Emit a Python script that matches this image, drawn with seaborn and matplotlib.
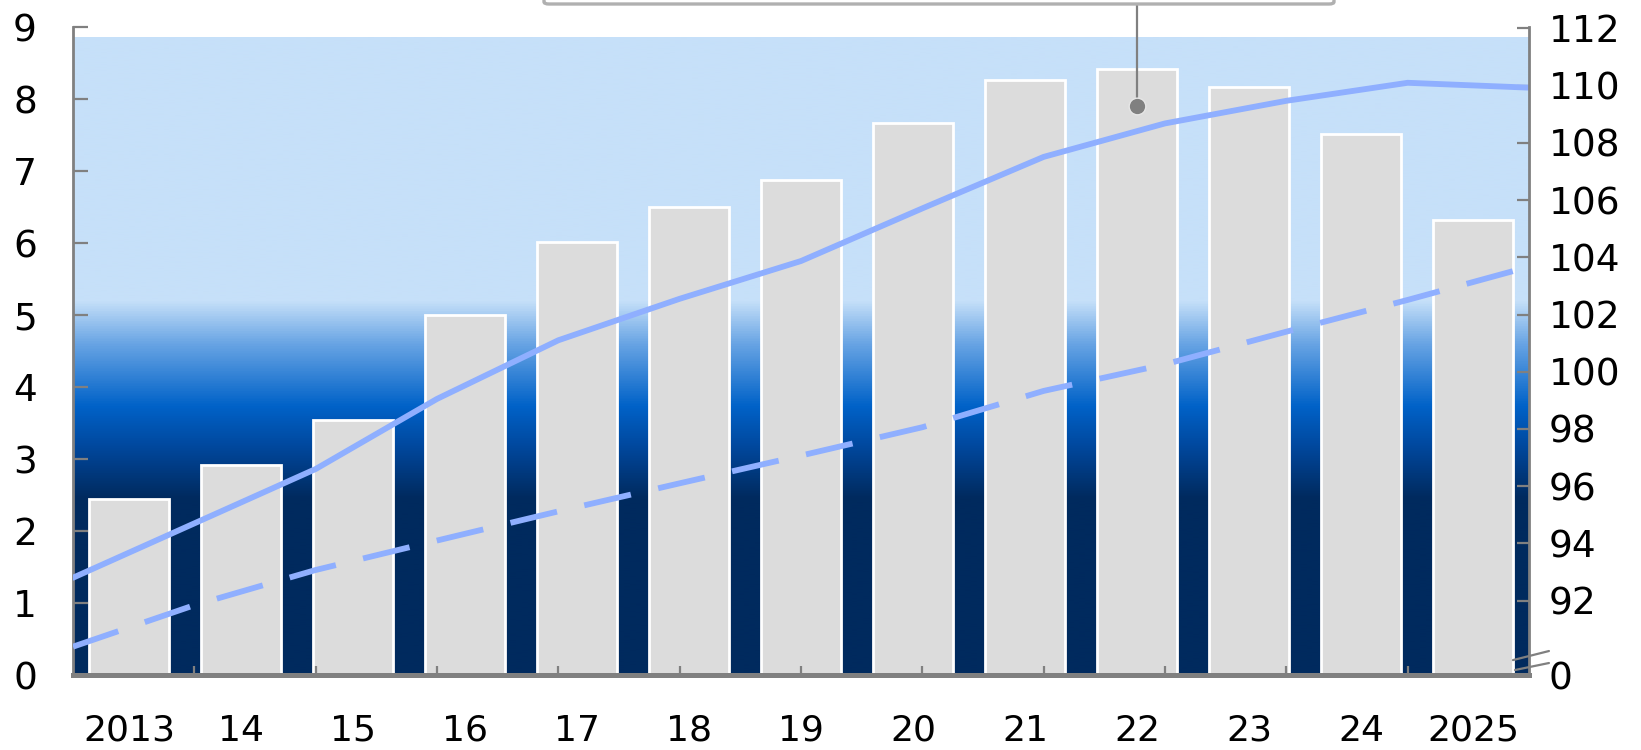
import numpy as np
import pandas as pd
import matplotlib
matplotlib.use("Agg")
import matplotlib.pyplot as plt
import seaborn as sns
from matplotlib.colors import LinearSegmentedColormap
from matplotlib.patches import FancyBboxPatch
from matplotlib.lines import Line2D

# ---------------- data ----------------
categories = ["2013", "14", "15", "16", "17", "18", "19", "20", "21", "22", "23", "24", "2025"]
bar_values = [2.45, 2.92, 3.54, 5.00, 6.02, 6.50, 6.88, 7.66, 8.27, 8.41, 8.17, 7.51, 6.32]
line_years = [2013, 2014, 2015, 2016, 2017, 2018, 2019, 2020, 2021, 2022, 2023, 2024, 2025]
solid_values = [92.80, 94.70, 96.60, 99.05, 101.10, 102.55, 103.87, 105.71, 107.51, 108.68, 109.47, 110.10, 109.93]
dashed_values = [90.39, 91.84, 93.07, 94.10, 95.12, 96.10, 97.07, 98.06, 99.33, 100.26, 101.40, 102.51, 103.67]
left_ticks = [0, 1, 2, 3, 4, 5, 6, 7, 8, 9]
right_ticks = [92, 94, 96, 98, 100, 102, 104, 106, 108, 110, 112]
right_zero = 89.40   # value of right axis at its broken "0" position

# ---------------- style ----------------
sns.set_theme(style="white")
plt.rcParams["font.family"] = ["DejaVu Sans"]
GRAY = "#808080"
LINE = "#8fafff"
FS = 27

fig = plt.figure(figsize=(16.41, 7.5), dpi=100)
ax = fig.add_axes([73 / 1641, 75 / 750, 1456 / 1641, 648 / 750])
ax.set_facecolor("white")

# gradient background
shade_top = 8.86
stops = [(0.0, "#002a5e"), (2.45 / shade_top, "#002a5e"), (3.15 / shade_top, "#00479c"),
         (3.73 / shade_top, "#0062c8"), (4.6 / shade_top, "#68a4e4"),
         (5.2 / shade_top, "#c6e0f9"), (1.0, "#c6e0f9")]
cmap = LinearSegmentedColormap.from_list("bg", stops)
grad = np.linspace(0, 1, 512).reshape(-1, 1)
ax.imshow(grad, cmap=cmap, extent=(-0.5, 12.5, 0, shade_top), aspect="auto",
          origin="lower", zorder=0, interpolation="bilinear")

# bars
df = pd.DataFrame({"cat": categories, "val": bar_values})
sns.barplot(data=df, x="cat", y="val", ax=ax, color="#dcdcdc", saturation=1,
            edgecolor="white", linewidth=2.0, width=0.72, zorder=2)

ax.set_xlim(-0.5, 12.5)
ax.set_ylim(0, 9)
ax.set_xlabel("")
ax.set_ylabel("")
ax.set_yticks(left_ticks)
ax.set_yticklabels([str(t) for t in left_ticks])
ax.tick_params(axis="y", direction="in", length=11, width=1.6, color=GRAY,
               labelsize=FS, pad=26, left=True, labelcolor="black")
ax.tick_params(axis="x", length=0, labelsize=26, pad=28, labelcolor="black")
for s in ["top", "right"]:
    ax.spines[s].set_visible(False)
ax.spines["left"].set_color(GRAY)
ax.spines["left"].set_linewidth(2.0)
ax.spines["bottom"].set_color(GRAY)
ax.spines["bottom"].set_linewidth(3.6)
ax.spines["bottom"].set_zorder(6)

# annotation marker + connector to (cropped) box
ax.plot([9], [7.9], "o", color=GRAY, ms=12, mec="#e6e6e6", mew=1.0, zorder=5)
ax.annotate("", xy=(9, 7.9), xycoords="data",
            xytext=(9, 1 - 4 / 750), textcoords=("data", "figure fraction"),
            arrowprops=dict(arrowstyle="-", color=GRAY, lw=1.6, shrinkA=0, shrinkB=0),
            zorder=4)
box = FancyBboxPatch((544 / 1641, 1 - 4 / 750), (1334 - 544) / 1641, 0.2,
                     boxstyle="round,pad=0,rounding_size=0.003",
                     transform=fig.transFigure, facecolor="white",
                     edgecolor="#b0b0b0", lw=2.4, clip_on=False)
fig.patches.append(box)

# line axes (right scale)
ax3 = fig.add_axes(ax.get_position())
ax3.patch.set_alpha(0)
sns.lineplot(x=line_years, y=solid_values, ax=ax3, color=LINE, lw=4.2)
sns.lineplot(x=line_years, y=dashed_values, ax=ax3, color=LINE, lw=4.2)
ax3.lines[1].set_linestyle((0, (8.2, 4.8)))
ax3.set_xlim(2013, 2025)
ax3.set_ylim(right_zero, 112.05)
ax3.set_xlabel("")
ax3.set_ylabel("")
ax3.yaxis.tick_right()
ax3.set_yticks([right_zero] + right_ticks)
ax3.set_yticklabels(["0"] + [str(t) for t in right_ticks])
ax3.tick_params(axis="y", direction="in", length=9, width=1.6, color=GRAY,
                labelsize=FS, pad=14, right=True, left=False, labelcolor="black")
ax3.set_xticks(line_years[1:-1])
ax3.set_xticklabels([])
ax3.tick_params(axis="x", direction="in", length=6.5, width=1.6, color=GRAY,
                bottom=True)
for s in ["top", "left", "bottom"]:
    ax3.spines[s].set_visible(False)
ax3.spines["right"].set_color(GRAY)
ax3.spines["right"].set_linewidth(2.0)

# axis break marks on right axis
for (x0, y0, x1, y1) in [(0.989, 0.023, 1.0137, 0.037), (0.9904, 0.0077, 1.0137, 0.0185)]:
    ax3.add_line(Line2D([x0, x1], [y0, y1], transform=ax3.transAxes, color=GRAY,
                        lw=1.6, clip_on=False))

fig.savefig("out.png", dpi=100)
